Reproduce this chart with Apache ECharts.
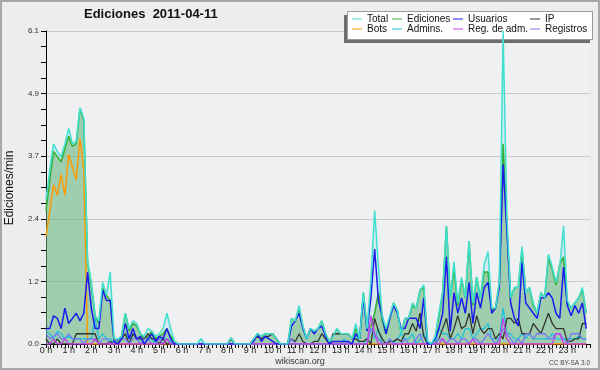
<!DOCTYPE html>
<html>
<head>
<meta charset="utf-8">
<script src="https://cdn.jsdelivr.net/npm/echarts@6/dist/echarts.min.js"></script>
<style>
  html, body { margin: 0; padding: 0; background: #ededed; }
  #chart { width: 600px; height: 370px; }
</style>
</head>
<body>
<div id="chart"></div>
<script>
// 10-minute bins, 144 per day (index 0 = 0:00)
const total = [
  2.8, 3.4, 3.9, 3.75, 3.65, 3.9, 4.2, 3.9, 3.95, 4.6, 4.4, 1.6,
  1.2, 0.55, 0.45, 1.2, 0.95, 1.4, 0.1, 0.1, 0.15, 0.6, 0.3, 0.45,
  0.4, 0.2, 0.15, 0.3, 0.25, 0.15, 0.2, 0.3, 0.6, 0.3, 0.05, 0,
  0, 0, 0, 0, 0, 0.1, 0, 0, 0, 0, 0, 0,
  0, 0.12, 0, 0, 0, 0, 0, 0.1, 0.2, 0.15, 0.2, 0.2,
  0.2, 0.1, 0, 0, 0, 0.5, 0.45, 0.75, 0.35, 0.1, 0.3, 0.25,
  0.3, 0.45, 0.2, 0.05, 0.15, 0.3, 0.2, 0.2, 0.2, 0.1, 0.4, 0.1,
  1.0, 0.3, 1.25, 2.6, 1.5, 0.55, 0.3, 0.55, 0.8, 0.65, 0.2, 0.5,
  0.5, 0.8, 0.7, 1.05, 1.15, 0.05, 0, 0.15, 0.6, 1.0, 2.3, 0.9,
  1.6, 0.8, 1.3, 0.9, 2.0, 0.8, 1.3, 0.9, 1.55, 1.8, 0.7, 0.7,
  1.2, 6.1, 2.5, 0.9, 1.1, 1.1, 1.9, 1.0, 1.1, 0.8, 0.6, 1.0,
  0.9, 1.75, 1.5, 1.2, 1.5, 2.3, 0.85, 0.7, 0.8, 0.9, 1.1, 0.6
];
const ediciones = [
  2.6, 3.2, 3.75, 3.65, 3.55, 3.8, 4.05, 3.85, 3.9, 4.6, 4.35, 1.6,
  1.15, 0.55, 0.4, 1.1, 0.95, 0.85, 0.1, 0.05, 0.15, 0.6, 0.25, 0.4,
  0.35, 0.2, 0.1, 0.15, 0.25, 0.1, 0.15, 0.2, 0.3, 0.15, 0.05, 0,
  0, 0, 0, 0, 0, 0, 0, 0, 0, 0, 0, 0,
  0, 0.12, 0, 0, 0, 0, 0, 0.1, 0.2, 0.15, 0.2, 0.2,
  0.2, 0.1, 0, 0, 0, 0.5, 0.45, 0.7, 0.35, 0.1, 0.3, 0.25,
  0.3, 0.45, 0.2, 0.05, 0.15, 0.3, 0.2, 0.2, 0.2, 0.1, 0.3, 0.1,
  1.0, 0.3, 0.35, 0.6, 1.0, 0.45, 0.2, 0.5, 0.8, 0.65, 0.2, 0.5,
  0.5, 0.75, 0.7, 1.05, 1.1, 0.05, 0, 0.1, 0.55, 1.0, 2.3, 0.9,
  1.45, 0.75, 1.25, 0.9, 2.0, 0.75, 1.3, 0.9, 1.4, 1.4, 0.65, 0.7,
  1.2, 3.9, 2.3, 0.9, 1.1, 1.1, 1.85, 1.0, 1.1, 0.75, 0.6, 1.0,
  0.9, 1.7, 1.45, 1.15, 1.55, 1.7, 0.8, 0.7, 0.8, 0.9, 1.05, 0.6
];
const usuarios = [
  0.3, 0.3, 0.55, 0.5, 0.3, 0.7, 0.4, 0.5, 0.6, 0.45, 0.6, 1.4,
  0.7, 0.3, 0.3, 1.05, 0.85, 0.85, 0.05, 0, 0.1, 0.4, 0.1, 0.3,
  0.1, 0.15, 0, 0.1, 0.2, 0.05, 0.15, 0.1, 0.3, 0.1, 0, 0,
  0, 0, 0, 0, 0, 0, 0, 0, 0, 0, 0, 0,
  0, 0, 0, 0, 0, 0, 0, 0.05, 0.2, 0.05, 0.15, 0.1,
  0.05, 0, 0, 0, 0, 0.35, 0.45, 0.6, 0.3, 0.1, 0.3, 0.2,
  0.3, 0.35, 0.15, 0, 0.05, 0.05, 0.05, 0.05, 0.05, 0, 0.2, 0.1,
  0.9, 0.25, 0.9, 1.85, 0.85, 0.55, 0.2, 0.5, 0.75, 0.6, 0.3, 0.3,
  0.5, 0.5, 0.5, 0.3, 0.9, 0, 0, 0.1, 0.3, 0.6, 1.7, 0.25,
  1.0, 0.6, 0.9, 0.6, 1.2, 0.4, 1.0, 0.7, 1.1, 1.2, 0.6, 0.7,
  1.1, 3.5, 2.2, 0.8, 0.5, 0.35, 1.6, 0.8, 0.7, 0.6, 0.5, 0.9,
  0.9, 1.0, 0.9, 0.6, 0.5, 1.5, 0.75, 0.55, 0.75, 0.6, 0.8, 0.3
];
const ip = [
  0.1, 0, 0, 0.1, 0, 0, 0, 0, 0.2, 0.2, 0.2, 0.2,
  0.2, 0.2, 0, 0, 0, 0.05, 0, 0, 0.1, 0.2, 0, 0.2,
  0.1, 0.1, 0.1, 0.2, 0.1, 0.1, 0, 0.1, 0, 0, 0, 0,
  0, 0, 0, 0, 0, 0, 0, 0, 0, 0, 0, 0,
  0, 0.1, 0, 0, 0, 0, 0, 0.1, 0.15, 0.1, 0.15, 0.15,
  0.2, 0.1, 0, 0, 0, 0.1, 0.05, 0.2, 0.05, 0, 0, 0.05,
  0.05, 0.2, 0.1, 0, 0.2, 0.2, 0.2, 0.2, 0.2, 0.1, 0.1, 0.05,
  0.05, 0.1, 0, 0.5, 0.25, 0.1, 0, 0.05, 0.05, 0.1, 0.05, 0.2,
  0.2, 0.4, 0.25, 0.6, 0.15, 0, 0, 0, 0.1, 0.3, 0.5, 0.1,
  0.3, 0.55, 0.3, 0.35, 0.6, 0.2, 0.55, 0.3, 0.2, 0.3, 0.3, 0.1,
  0.2, 0.1, 0.5, 0.5, 0.4, 0.5, 0.2, 0.2, 0.2, 0.4, 0.3, 0.2,
  0.4, 0.6, 0.4, 0.3, 0.3, 0.3, 0.05, 0.05, 0.1, 0.1, 0.4, 0.4
];
const bots = [
  2.1, 2.6, 3.1, 2.9, 3.3, 2.9, 3.7, 3.45, 3.2, 4.0, 3.4, 0,
  0, 0, 0, 0, 0, 0, 0, 0, 0, 0, 0, 0,
  0, 0, 0, 0, 0, 0, 0, 0, 0, 0, 0, 0,
  0, 0, 0, 0, 0, 0, 0, 0, 0, 0, 0, 0,
  0, 0, 0, 0, 0, 0, 0, 0, 0, 0, 0, 0,
  0, 0, 0, 0, 0, 0, 0, 0, 0, 0, 0, 0,
  0, 0, 0, 0, 0, 0, 0, 0, 0, 0, 0, 0,
  0, 0, 0, 0, 0, 0, 0, 0, 0, 0, 0, 0,
  0, 0, 0, 0, 0, 0, 0, 0, 0, 0, 0, 0,
  0, 0, 0, 0, 0, 0, 0, 0, 0, 0, 0, 0,
  0, 0, 0, 0, 0, 0, 0, 0, 0, 0, 0, 0,
  0, 0, 0, 0, 0, 0, 0, 0, 0, 0, 0, 0
];
const admins = [
  0.25, 0.2, 0.1, 0.25, 0.2, 0.1, 0.15, 0.1, 0.1, 0.1, 0.1, 0.1,
  0.1, 0.5, 0.1, 0.2, 0.1, 0.1, 0, 0.1, 0.1, 0.2, 0.1, 0.2,
  0.1, 0.1, 0, 0.1, 0.1, 0, 0.1, 0.1, 0.1, 0.05, 0, 0,
  0, 0, 0, 0, 0, 0.1, 0, 0, 0, 0, 0, 0,
  0, 0, 0, 0, 0, 0, 0, 0, 0, 0, 0, 0,
  0, 0, 0, 0, 0, 0, 0, 0, 0, 0, 0, 0,
  0, 0, 0, 0, 0, 0, 0, 0.1, 0, 0, 0.15, 0,
  0, 0.1, 0.3, 0.1, 0.3, 0, 0, 0.1, 0, 0.1, 0.2, 0.1,
  0.1, 0.2, 0, 0.1, 0.2, 0, 0, 0, 0.3, 0.2, 0.2, 0.1,
  0.1, 0.2, 0.1, 0.3, 0.3, 0.1, 0.2, 0.3, 0.3, 0.4, 0.1, 0.1,
  0.1, 0.7, 0.2, 0.2, 0.1, 0.1, 0.2, 0.1, 0.2, 0.1, 0.1, 0.1,
  0.1, 0.1, 0.2, 0.1, 0.1, 0.1, 0.1, 0.1, 0.1, 0.15, 0.1, 0.1
];
const regAdm = [
  0, 0, 0.1, 0, 0, 0.1, 0, 0, 0, 0, 0, 0,
  0, 0.1, 0, 0, 0, 0, 0, 0, 0, 0, 0, 0,
  0, 0, 0, 0, 0, 0, 0, 0, 0.1, 0, 0, 0,
  0, 0, 0, 0, 0, 0, 0, 0, 0, 0, 0, 0,
  0, 0, 0, 0, 0, 0, 0, 0, 0, 0, 0, 0,
  0, 0, 0, 0, 0, 0, 0, 0, 0, 0, 0, 0,
  0, 0, 0, 0, 0, 0, 0, 0, 0, 0, 0, 0,
  0, 0, 0.55, 0.2, 0, 0, 0, 0, 0, 0, 0, 0,
  0, 0, 0, 0, 0, 0, 0, 0, 0, 0.1, 0, 0,
  0, 0, 0, 0, 0, 0.1, 0, 0, 0, 0, 0, 0,
  0, 0.5, 0.1, 0, 0, 0, 0, 0, 0, 0, 0, 0,
  0, 0, 0, 0.2, 0.2, 0, 0, 0, 0, 0, 0, 0
];
const registros = [
  0.2, 0.1, 0.15, 0.2, 0.1, 0.1, 0.2, 0.1, 0.1, 0.1, 0, 0.1,
  0.1, 0.1, 0, 0.1, 0.1, 0, 0, 0.1, 0.1, 0.1, 0, 0.1,
  0.1, 0, 0.1, 0.1, 0, 0, 0.1, 0, 0.1, 0, 0, 0,
  0, 0, 0, 0, 0, 0, 0, 0, 0, 0, 0, 0,
  0, 0, 0, 0, 0, 0, 0, 0, 0, 0, 0, 0,
  0, 0, 0, 0, 0, 0.1, 0, 0, 0, 0, 0, 0,
  0, 0, 0, 0, 0, 0, 0, 0, 0, 0, 0, 0,
  0, 0, 0.3, 0.2, 0.1, 0, 0, 0.1, 0, 0, 0, 0.1,
  0, 0, 0.1, 0.2, 0, 0, 0, 0, 0.1, 0.1, 0, 0.1,
  0.1, 0, 0.1, 0.1, 0, 0.1, 0.1, 0, 0.1, 0.2, 0.1, 0,
  0.1, 0.3, 0.2, 0.1, 0, 0.1, 0, 0.2, 0.2, 0.1, 0.2, 0.2,
  0.2, 0.1, 0.1, 0.2, 0.2, 0.1, 0, 0.2, 0.2, 0.2, 0.1, 0.1
];
const yTicks = [0, 1.22, 2.44, 3.66, 4.88, 6.1];

const FONT = 'Liberation Sans';
const chart = echarts.init(document.getElementById('chart'));

const pts = arr => arr.map((v, i) => [i, v]);

function line(name, data, color, width, extra) {
  return Object.assign({
    name: name,
    type: 'line',
    data: pts(data),
    color: color,
    symbol: 'none',
    showSymbol: false,
    lineStyle: { color: color, width: width },
    emphasis: { disabled: true },
    animation: false
  }, extra || {});
}

// one legend per item so columns line up like the original
function leg(name, left, top) {
  return {
    data: [name],
    left: left,
    top: top,
    padding: 0,
    icon: 'rect',
    itemWidth: 10,
    itemHeight: 1,
    selectedMode: false,
    textStyle: { fontFamily: FONT, fontSize: 10, color: '#111', lineHeight: 12 }
  };
}

const option = {
  backgroundColor: '#ededed',
  title: {
    text: 'Ediciones  2011-04-11',
    left: 84,
    top: 8,
    padding: 0,
    textStyle: { fontFamily: FONT, fontSize: 13, fontWeight: 'bold', color: '#111' }
  },
  legend: [
    leg('Total', 352, 13), leg('Ediciones', 392, 13), leg('Usuarios', 453, 13), leg('IP', 530, 13),
    leg('Bots', 352, 23), leg('Admins.', 392, 23), leg('Reg. de adm.', 453, 23), leg('Registros', 530, 23)
  ],
  grid: {
    left: 46, right: 10, top: 31, bottom: 26,
    show: true, backgroundColor: '#eef0f2', borderWidth: 0
  },
  xAxis: {
    type: 'value',
    min: 0, max: 144, interval: 6,
    axisLine: { show: true, lineStyle: { color: '#000', width: 1 } },
    axisTick: { show: true, length: 4, lineStyle: { color: '#000' } },
    minorTick: { show: true, splitNumber: 6, length: 4, lineStyle: { color: '#000' } },
    splitLine: { show: false },
    axisLabel: {
      margin: 2, fontFamily: FONT, fontSize: 9, color: '#222',
      showMaxLabel: false,
      formatter: v => v >= 144 ? '' : (v / 6) + ' h'
    }
  },
  yAxis: {
    type: 'value',
    min: 0, max: 6.1, interval: 1.22,
    axisLine: { show: true, lineStyle: { color: '#000', width: 1 } },
    axisTick: { show: true, length: 5, lineStyle: { color: '#000' } },
    minorTick: { show: true, splitNumber: 4, length: 5, lineStyle: { color: '#000' } },
    splitLine: { show: true, lineStyle: { color: '#c8c8c8', width: 1 } },
    axisLabel: {
      margin: 7, fontFamily: FONT, fontSize: 8, color: '#333',
      formatter: v => v.toFixed(1)
    }
  },
  graphic: [
    { type: 'rect', z: -1, silent: true, shape: { x: 1, y: 1, width: 598, height: 368 },
      style: { fill: 'none', stroke: '#a8a8a8', lineWidth: 2 } },
    { type: 'rect', z: 1, silent: true, shape: { x: 344, y: 15, width: 246, height: 28 },
      style: { fill: '#6e6e6e' } },
    { type: 'rect', z: 1, silent: true, shape: { x: 347.5, y: 11.5, width: 245, height: 28 },
      style: { fill: '#ffffff', stroke: '#9a9a9a', lineWidth: 1 } },
    { type: 'text', silent: true, x: 10, y: 188, rotation: Math.PI / 2,
      style: { text: 'Ediciones/min', fontFamily: FONT, fontSize: 12, fill: '#111',
        align: 'center', verticalAlign: 'middle' } },
    { type: 'text', silent: true, x: 300, y: 362,
      style: { text: 'wikiscan.org', fontFamily: FONT, fontSize: 9, fill: '#333',
        align: 'center', verticalAlign: 'middle' } },
    { type: 'text', silent: true, x: 590, y: 363,
      style: { text: 'CC BY-SA 3.0', fontFamily: FONT, fontSize: 6.5, fill: '#444',
        align: 'right', verticalAlign: 'middle' } }
  ],
  series: [
    line('Total', total, '#40e0d0', 0, { areaStyle: { color: 'rgba(165,215,240,0.45)' }, z: 2 }),
    line('Ediciones', ediciones, '#36b036', 1.6, { areaStyle: { color: 'rgba(70,165,70,0.55)' }, z: 3 }),
    line('Bots', bots, '#ff9a00', 1.5, { z: 4 }),
    line('Admins.', admins, '#22c0dc', 1.3, { z: 4 }),
    line('IP', ip, '#333333', 1.3, { z: 4 }),
    line('Registros', registros, '#7878f2', 1.3, { z: 4 }),
    line('Reg. de adm.', regAdm, '#c83ee6', 1.3, { z: 4 }),
    line('Usuarios', usuarios, '#1a1aee', 1.5, { z: 5 }),
    line('Total', total, '#40e0d0', 1.5, { z: 6 })
  ]
};

chart.setOption(option);
</script>
</body>
</html>
